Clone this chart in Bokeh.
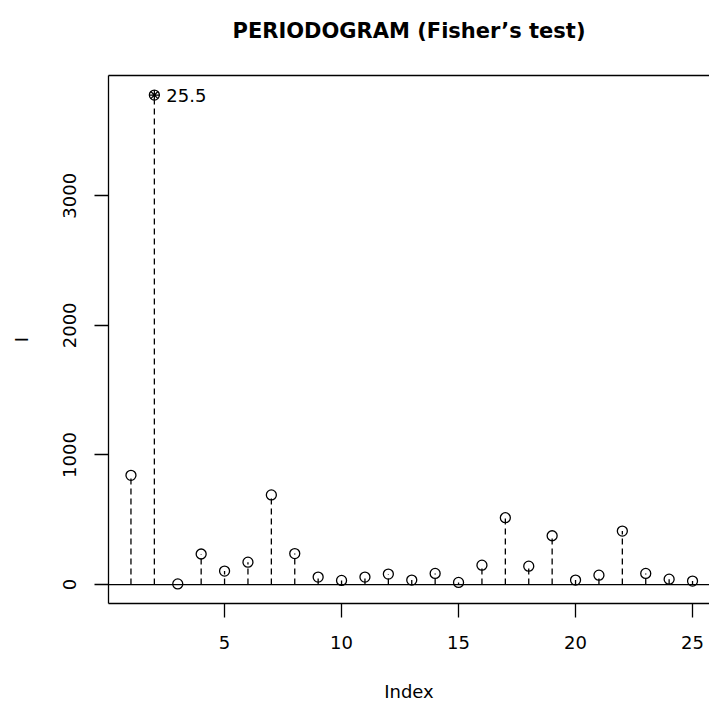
from bokeh.plotting import figure
from bokeh.models import Range1d, FixedTicker, LinearAxis, Label, Span
from bokeh.embed import file_html
from bokeh.resources import INLINE

# ---- data ----
index = list(range(1, 26))
intensity = [843, 3777, 5, 236, 104, 173, 692, 239, 58, 32, 58, 81, 35,
             86, 17, 150, 516, 142, 377, 35, 73, 413, 86, 42, 27]
peak_index = [2]
peak_value = [3777]
peak_label = "25.5"
x_ticks = [5, 10, 15, 20, 25]
y_ticks = [0, 1000, 2000, 3000]
baseline = 0
title_text = "PERIODOGRAM (Fisher\u2019s test)"
x_label = "Index"
y_label = "I"

FONT = "DejaVu Sans"

# R-style 4% range extension
xmin, xmax = min(index), max(index)
xlo = xmin - 0.04 * (xmax - xmin)
xhi_full = xmax + 0.04 * (xmax - xmin)
# reference is cropped on the right: only ~601 of ~606 px are visible
xhi = xlo + (xhi_full - xlo) * 601.0 / 606.5
ymin, ymax = min(intensity), max(intensity)
ylo = ymin - 0.04 * (ymax - ymin)
yhi = ymax + 0.04 * (ymax - ymin)

p = figure(width=709, height=704, output_backend="svg", toolbar_location=None,
           x_range=Range1d(xlo, xhi), y_range=Range1d(ylo, yhi),
           min_border_left=108, min_border_right=0, min_border_top=75,
           min_border_bottom=99, x_axis_location=None, y_axis_location=None)
p.grid.visible = False
p.outline_line_color = None
p.background_fill_color = "white"
p.border_fill_color = "white"

lw = 1.3

# axes
xaxis = LinearAxis(ticker=FixedTicker(ticks=x_ticks), axis_label=x_label)
yaxis = LinearAxis(ticker=FixedTicker(ticks=y_ticks), axis_label=y_label)
for ax in (xaxis, yaxis):
    ax.major_tick_out = 14
    ax.major_tick_in = 0
    ax.minor_tick_out = 0
    ax.minor_tick_in = 0
    ax.axis_line_width = lw
    ax.major_tick_line_width = lw
    ax.major_label_text_font = FONT
    ax.major_label_text_font_size = "18px"
    ax.major_label_text_color = "black"
    ax.axis_label_text_font = FONT
    ax.axis_label_text_font_size = "18px"
    ax.axis_label_text_font_style = "normal"
    ax.axis_label_text_color = "black"
yaxis.major_label_orientation = "vertical"
xaxis.major_label_standoff = 18
yaxis.major_label_standoff = 18
xaxis.axis_label_standoff = 29
yaxis.axis_label_standoff = 29

# top border of the box: an axis without ticks; its blank label only
# reserves the gap between the box and the title
topaxis = LinearAxis(ticker=FixedTicker(ticks=[]), axis_label=" ")
topaxis.major_tick_out = 0
topaxis.major_tick_in = 0
topaxis.minor_tick_out = 0
topaxis.minor_tick_in = 0
topaxis.major_label_standoff = 0
topaxis.major_label_text_font_size = "0px"
topaxis.axis_label_text_font = FONT
topaxis.axis_label_text_font_size = "18px"
topaxis.axis_label_standoff = 8
topaxis.axis_line_width = lw

p.add_layout(xaxis, "below")
p.add_layout(yaxis, "left")
p.add_layout(topaxis, "above")

# title
p.title.text = title_text
p.title.align = "center"
p.title.text_font = FONT
p.title.text_font_size = "21px"
p.title.text_font_style = "bold"
p.title.text_color = "black"
p.title.standoff = 2

# horizontal zero line
p.add_layout(Span(location=baseline, dimension="width", line_color="black",
                  line_width=lw))

# dashed stems
p.segment(x0=index, y0=[baseline] * len(index), x1=index, y1=intensity,
          line_color="black", line_width=lw, line_dash="6 4")

# open circles
p.scatter(index, intensity, marker="circle", size=10, fill_color=None,
          line_color="black", line_width=lw)

# highlighted peak
p.scatter(peak_index, peak_value, marker="asterisk", size=10,
          line_color="black", line_width=lw)
p.add_layout(Label(x=peak_index[0], y=peak_value[0], text=peak_label,
                   x_offset=12, text_baseline="middle", text_font=FONT,
                   text_font_size="18px", text_color="black"))

open("out.html", "w").write(file_html(p, INLINE))
